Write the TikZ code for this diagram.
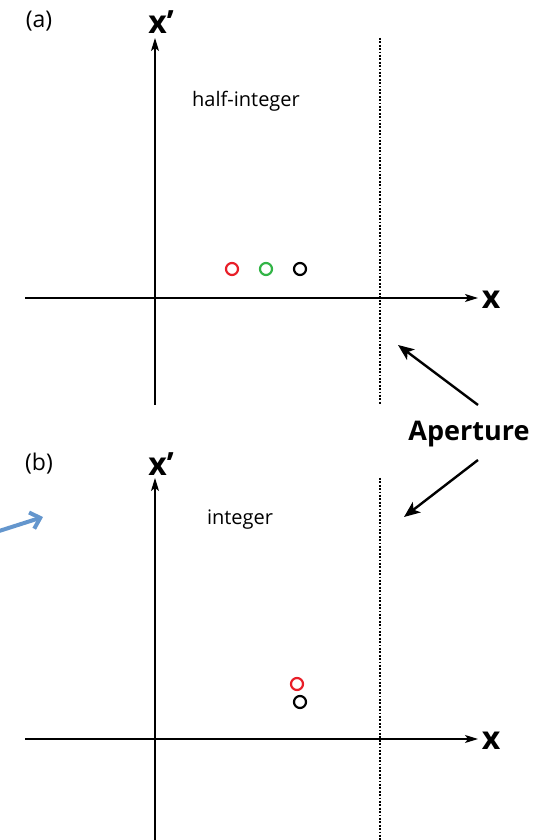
\documentclass[tikz,border=0pt]{standalone}
\usepackage{fontspec}
\setmainfont{Open Sans}
\usetikzlibrary{arrows.meta}
\definecolor{myred}{RGB}{232,30,40}
\definecolor{mygreen}{RGB}{50,180,70}
\definecolor{myblue}{RGB}{100,150,205}
\tikzset{
  axis/.style={line width=1.2pt,-{Stealth[length=13pt,width=8pt,inset=3pt]}},
  aperture/.style={line width=2.6pt,dash pattern=on 1.8pt off 1.6pt},
  pt/.style={circle,draw,line width=2.2pt,minimum size=12pt,inner sep=0pt},
  lbl/.style={font=\fontsize{20}{24}\selectfont},
  plbl/.style={font=\fontsize{23}{26}\selectfont},
  axlbl/.style={font=\fontsize{32}{34}\selectfont\bfseries},
  aparrow/.style={line width=2.4pt,-{Stealth[length=16pt,width=13pt,inset=4pt]}},
}
\begin{document}
\begin{tikzpicture}[x=1pt,y=1pt]
\useasboundingbox (0,0) rectangle (543,840);
% panel (a)
\coordinate (avb) at (155,435);
\coordinate (avt) at (155,802);
\coordinate (ahl) at (25,542);
\coordinate (ahr) at (478,542);
\coordinate (adt) at (380,802);
\coordinate (adb) at (380,435);
\draw[axis] (avb) -- (avt);
\draw[axis] (ahl) -- (ahr);
\draw[aperture] (adt) -- (adb);
\node[plbl] (la) at (39,819) {(a)};
\node[axlbl] (xpa) at (161,818) {x’};
\node[axlbl] (xa) at (491,540) {x};
\node[lbl] (hi) at (246,739) {half-integer};
\node[pt,draw=myred] (ca1) at (232,571) {};
\node[pt,draw=mygreen] (ca2) at (266,571) {};
\node[pt,draw=black] (ca3) at (300,571) {};
% panel (b)
\coordinate (bvb) at (155,0);
\coordinate (bvt) at (155,362);
\coordinate (bhl) at (25,101);
\coordinate (bhr) at (478,101);
\coordinate (bdt) at (380,362);
\coordinate (bdb) at (380,0);
\draw[axis] (bvb) -- (bvt);
\draw[axis] (bhl) -- (bhr);
\draw[aperture] (bdt) -- (bdb);
\node[plbl] (lb) at (39,376) {(b)};
\node[axlbl] (xpb) at (161,376) {x’};
\node[axlbl] (xb) at (491,99) {x};
\node[lbl] (ig) at (240,320) {integer};
\node[pt,draw=myred] (cb1) at (297,156) {};
\node[pt,draw=black] (cb2) at (300,138) {};
% aperture label
\node[font=\fontsize{27}{30}\selectfont\bfseries] (ap) at (469,406) {Aperture};
\coordinate (ap1s) at (478,435);
\coordinate (ap1e) at (398,495);
\coordinate (ap2s) at (478,380);
\coordinate (ap2e) at (404,323);
\draw[aparrow] (ap1s) -- (ap1e);
\draw[aparrow] (ap2s) -- (ap2e);
% blue arrow
\coordinate (bls) at (-4,308);
\coordinate (ble) at (43,323);
\draw[myblue,line width=4pt,-{Straight Barb[length=9pt,width=17pt]}] (bls) -- (ble);
\end{tikzpicture}
\end{document}
